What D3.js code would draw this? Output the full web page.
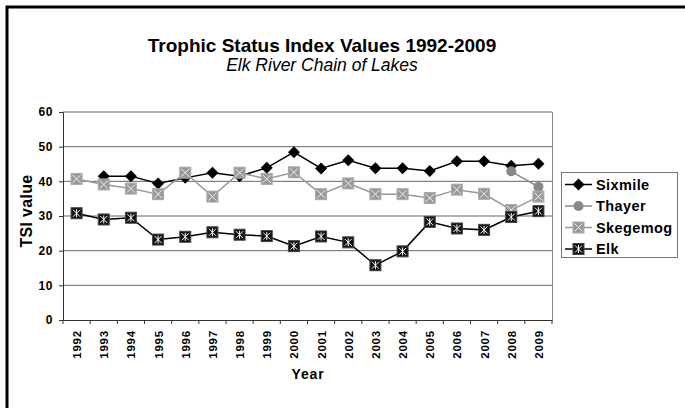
<!DOCTYPE html>
<html>
<head>
<meta charset="utf-8">
<script src="https://cdn.jsdelivr.net/npm/d3@7"></script>
<style>
  html, body { margin: 0; padding: 0; background: #fff; }
  svg { display: block; font-family: "Liberation Sans", Arial, sans-serif; }
</style>
</head>
<body>
<svg id="chart" width="685" height="408"></svg>
<script>
const years = ["1992","1993","1994","1995","1996","1997","1998","1999","2000","2001","2002","2003","2004","2005","2006","2007","2008","2009"];
const sixmile = [null,41.5,41.5,39.4,41.0,42.5,41.5,43.9,48.4,43.7,46.1,43.8,43.8,43.0,45.8,45.8,44.5,45.1];
const thayer = [null,null,null,null,null,null,null,null,null,null,null,null,null,null,null,null,42.9,38.4];
const skegemog = [40.7,39.1,37.9,36.3,42.5,35.6,42.5,40.7,42.6,36.3,39.4,36.3,36.3,35.2,37.6,36.4,31.7,35.6];
const elk = [30.8,29.0,29.5,23.2,24.0,25.3,24.6,24.2,21.3,24.1,22.4,15.8,19.8,28.3,26.4,26.0,29.7,31.4];
const yTicks = [0,10,20,30,40,50,60];
const seriesNames = ["Sixmile","Thayer","Skegemog","Elk"];

const series = [
  {name: seriesNames[0], values: sixmile, color: "#000", marker: "diamond"},
  {name: seriesNames[1], values: thayer, color: "#888", marker: "circle"},
  {name: seriesNames[2], values: skegemog, color: "#999", marker: "xsquare"},
  {name: seriesNames[3], values: elk, color: "#000", marker: "starsquare"}
];

const svg = d3.select("#chart");
const pLeft = 63, pRight = 552, pTop = 112, pBottom = 320;

// outer border (left & top visible)
svg.append("rect").attr("x", 7).attr("y", 7).attr("width", 700).attr("height", 420)
  .attr("fill", "none").attr("stroke", "#000").attr("stroke-width", 3);

// Titles
svg.append("text").attr("x", 322).attr("y", 52).attr("text-anchor", "middle")
  .attr("font-size", 19).attr("font-weight", "bold").text("Trophic Status Index Values 1992-2009");
svg.append("text").attr("x", 322).attr("y", 71).attr("text-anchor", "middle")
  .attr("font-size", 17.5).attr("font-style", "italic").text("Elk River Chain of Lakes");

const x = d3.scaleBand().domain(years).range([pLeft, pRight]);
const y = d3.scaleLinear().domain([0, 60]).range([pBottom, pTop]);

// gridlines
svg.append("g").selectAll("line").data(yTicks.filter(d => d > 0)).join("line")
  .attr("x1", pLeft).attr("x2", pRight)
  .attr("y1", d => y(d)).attr("y2", d => y(d))
  .attr("stroke", "#666").attr("stroke-width", 1);

// plot area right border
svg.append("line").attr("x1", pRight + 0.5).attr("x2", pRight + 0.5).attr("y1", pTop).attr("y2", pBottom)
  .attr("stroke", "#888").attr("stroke-width", 1);

// Y axis
const yAxis = d3.axisLeft(y).tickValues(yTicks).tickSize(4).tickPadding(6);
const gy = svg.append("g").attr("transform", `translate(${pLeft},0)`).call(yAxis);
gy.select(".domain").attr("stroke", "#333");
gy.selectAll(".tick line").attr("stroke", "#333");
gy.selectAll(".tick text").attr("font-size", 12).attr("font-weight", "bold")
  .attr("font-family", "Liberation Sans, Arial, sans-serif").attr("letter-spacing", "0.6px").attr("fill", "#000");

// X axis
const xAxis = d3.axisBottom(x).tickSize(0).tickPadding(0);
const gx = svg.append("g").attr("transform", `translate(0,${pBottom})`).call(xAxis);
gx.select(".domain").attr("stroke", "#333");
gx.selectAll(".tick text")
  .attr("font-size", 11.5).attr("font-weight", "bold").attr("font-family", "Liberation Sans, Arial, sans-serif")
  .attr("letter-spacing", "0.8px").attr("fill", "#000")
  .attr("text-anchor", "end").attr("dy", null).attr("y", 0)
  .attr("transform", "translate(4.5,10) rotate(-90)");
// category boundary ticks
const bounds = years.map(d => x(d)).concat([pRight]);
svg.append("g").selectAll("line").data(bounds).join("line")
  .attr("x1", d => d).attr("x2", d => d).attr("y1", pBottom).attr("y2", pBottom + 4)
  .attr("stroke", "#333");

// axis titles
svg.append("text").attr("x", 308).attr("y", 379).attr("text-anchor", "middle")
  .attr("font-size", 14).attr("font-weight", "bold").attr("letter-spacing", "0.8px").text("Year");
svg.append("text").attr("transform", "translate(31.5,211) rotate(-90)").attr("text-anchor", "middle")
  .attr("font-size", 16).attr("font-weight", "bold").attr("letter-spacing", "0.3px").text("TSI value");

const cx = i => x(years[i]) + x.bandwidth() / 2;

function drawMarker(g, type, px, py) {
  if (type === "diamond") {
    g.append("path").attr("d", `M${px},${py-6}L${px+6},${py}L${px},${py+6}L${px-6},${py}Z`).attr("fill", "#000");
  } else if (type === "circle") {
    g.append("circle").attr("cx", px).attr("cy", py).attr("r", 5).attr("fill", "#888");
  } else if (type === "xsquare") {
    g.append("rect").attr("x", px-5.5).attr("y", py-5.5).attr("width", 11).attr("height", 11)
      .attr("fill", "#999").attr("stroke", "#aaa").attr("stroke-width", 1);
    g.append("path").attr("d", `M${px-4},${py-4}L${px+4},${py+4}M${px+4},${py-4}L${px-4},${py+4}`)
      .attr("stroke", "#eee").attr("stroke-width", 1);
  } else if (type === "starsquare") {
    g.append("rect").attr("x", px-5.5).attr("y", py-5.5).attr("width", 11).attr("height", 11)
      .attr("fill", "#111").attr("stroke", "#444").attr("stroke-width", 1);
    g.append("path").attr("d", `M${px-3.5},${py-3.5}L${px+3.5},${py+3.5}M${px+3.5},${py-3.5}L${px-3.5},${py+3.5}M${px},${py-4}L${px},${py+4}`)
      .attr("stroke", "#fff").attr("stroke-width", 1);
  }
}

series.forEach(s => {
  const g = svg.append("g");
  const line = d3.line().defined(d => d != null).x((d, i) => cx(i)).y(d => y(d));
  g.append("path").datum(s.values).attr("d", line)
    .attr("fill", "none").attr("stroke", s.color).attr("stroke-width", 1.5);
  s.values.forEach((v, i) => { if (v != null) drawMarker(g, s.marker, cx(i), y(v)); });
});

// Legend
const lg = svg.append("g");
lg.append("rect").attr("x", 561.5).attr("y", 172.5).attr("width", 116).attr("height", 85)
  .attr("fill", "#fff").attr("stroke", "#777").attr("stroke-width", 1);
const legY = [184.5, 206, 227.5, 249];
series.forEach((s, i) => {
  lg.append("line").attr("x1", 565).attr("x2", 592).attr("y1", legY[i]).attr("y2", legY[i])
    .attr("stroke", s.color).attr("stroke-width", 1.5);
  drawMarker(lg, s.marker, 578.5, legY[i]);
  lg.append("text").attr("x", 596).attr("y", legY[i] + 5).attr("font-size", 14.5)
    .attr("font-weight", "bold").attr("letter-spacing", "0.4px").text(s.name);
});
</script>
</body>
</html>
